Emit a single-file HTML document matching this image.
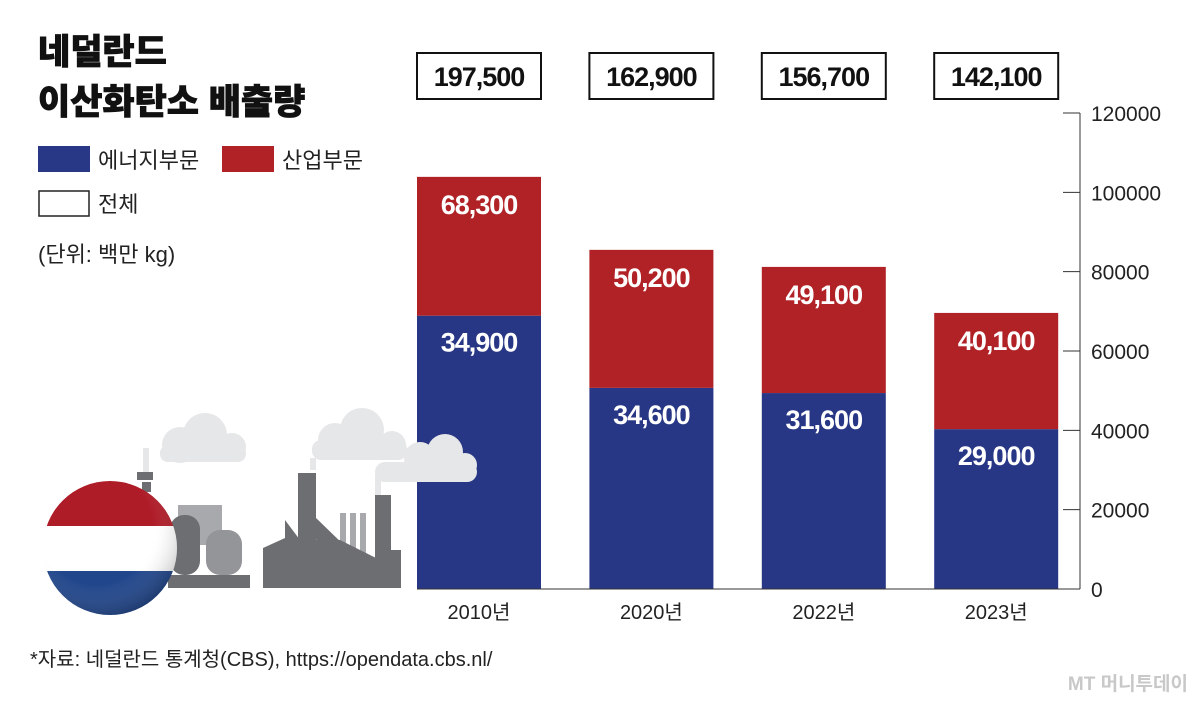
<!DOCTYPE html>
<html><head><meta charset="utf-8"><style>
body{margin:0;background:#fff;}
svg{display:block;font-family:"Liberation Sans","Noto Sans CJK KR",sans-serif;}
</style></head><body>
<svg id="c" width="1200" height="705" viewBox="0 0 1200 705">
<g font-weight="900" font-size="35" fill="#111" stroke="#111" stroke-width="0.8">
<text x="38" y="64">네덜란드</text><text x="38" y="114">이산화탄소 배출량</text></g>
<g font-size="22" fill="#222">
<rect x="38" y="146" width="52" height="26" fill="#283887"/>
<text x="98" y="168">에너지부문</text>
<rect x="222" y="146" width="52" height="26" fill="#b02226"/>
<text x="282" y="168">산업부문</text>
<rect x="39" y="191" width="50" height="25" fill="#fff" stroke="#222" stroke-width="1.5"/>
<text x="98" y="212">전체</text>
<text x="38" y="262">(단위: 백만 kg)</text></g>
<g id="bars"></g>
<g>
<g fill="#e6e7e8">
<circle cx="180" cy="445" r="18"/><circle cx="205" cy="435" r="22"/><circle cx="232" cy="447" r="14"/><rect x="160" y="445" width="86" height="17" rx="8"/>
<circle cx="335" cy="440" r="17"/><circle cx="362" cy="430" r="22"/><circle cx="392" cy="445" r="14"/><rect x="312" y="440" width="95" height="20" rx="9"/>
<circle cx="420" cy="458" r="16"/><circle cx="445" cy="452" r="18"/><circle cx="465" cy="465" r="12"/><rect x="375" y="462" width="102" height="20" rx="10"/>
<rect x="143" y="448" width="6" height="28"/><rect x="310" y="458" width="6" height="12"/><rect x="375" y="475" width="6" height="20"/>
</g>
<g fill="#6d6e71">
<rect x="137" y="472" width="16" height="8"/><rect x="142" y="482" width="9" height="10"/>
<rect x="178" y="505" width="44" height="40" fill="#a7a9ac"/>
<rect x="170" y="515" width="30" height="60" rx="14"/><rect x="206" y="530" width="36" height="45" rx="14" fill="#939598"/>
<rect x="168" y="575" width="82" height="13"/>
<rect x="298" y="473" width="18" height="115"/><rect x="375" y="495" width="16" height="93"/>
<rect x="340" y="513" width="6" height="50" fill="#a7a9ac"/><rect x="350" y="513" width="6" height="50" fill="#a7a9ac"/><rect x="360" y="513" width="6" height="50" fill="#a7a9ac"/>
<polygon points="263,548 285,538 285,520 300,540 340,540 400,570 400,588 263,588"/>
<polygon points="300,525 315,517 380,580 370,588"/>
<rect x="383" y="550" width="18" height="38"/>
</g>
<defs><clipPath id="fc"><circle cx="110" cy="548" r="67"/></clipPath>
<radialGradient id="sh" cx="0.4" cy="0.35" r="0.7"><stop offset="0.6" stop-color="#fff" stop-opacity="0"/><stop offset="1" stop-color="#000" stop-opacity="0.25"/></radialGradient></defs>
<g clip-path="url(#fc)">
<rect x="40" y="480" width="140" height="46" fill="#ae1c28"/>
<rect x="40" y="526" width="140" height="45" fill="#fff"/>
<rect x="40" y="571" width="140" height="46" fill="#21468b"/>
<circle cx="110" cy="548" r="67" fill="url(#sh)"/></g>
</g>
<g id="axis" font-size="21" fill="#222"></g>
<g id="xlab" font-size="20" fill="#222" text-anchor="middle"></g>
<text x="30" y="666" font-size="20" fill="#222">*자료: 네덜란드 통계청(CBS), https://opendata.cbs.nl/</text>
<text x="1188" y="690" font-size="19" fill="#c8c8c8" text-anchor="end" font-weight="bold">MT 머니투데이</text>
</svg>
<script>
const categories=["2010년","2020년","2022년","2023년"];
const energyVals=[68900,50700,49400,40300];
const industryVals=[35000,34800,31800,29300];
const energyLabels=["34,900","34,600","31,600","29,000"];
const industryLabels=["68,300","50,200","49,100","40,100"];
const totalLabels=["197,500","162,900","156,700","142,100"];
const yTicks=[0,20000,40000,60000,80000,100000,120000];
const NS="http://www.w3.org/2000/svg";
const y0=589,yTop=113,yMax=120000;
const y=v=>y0-(v/yMax)*(y0-yTop);
const bx=i=>417+i*172.4, bw=124;
function mk(t,a,p,txt){const e=document.createElementNS(NS,t);for(const k in a)e.setAttribute(k,a[k]);if(txt!=null)e.textContent=txt;p.appendChild(e);return e;}
const bars=document.getElementById('bars'),axis=document.getElementById('axis'),xl=document.getElementById('xlab');
categories.forEach((c,i)=>{
 const x=bx(i),e=energyVals[i],t=e+industryVals[i];
 const b1=mk('rect',{x:x,y:y(e),width:bw,height:y0-y(e),fill:'#283785'},bars);
 
 
 const b2=mk('rect',{x:x,y:y(t),width:bw,height:y(e)-y(t),fill:'#b02226'},bars);
 
 
 const l1=mk('text',{x:x+bw/2,y:y(e)+36,'font-size':27,'font-weight':'bold',fill:'#fff','text-anchor':'middle','letter-spacing':'-1'},bars,energyLabels[i]);
 
 
 const l2=mk('text',{x:x+bw/2,y:y(t)+37,'font-size':27,'font-weight':'bold',fill:'#fff','text-anchor':'middle','letter-spacing':'-1'},bars,industryLabels[i]);
 
 
 const bxr=mk('rect',{x:x,y:53,width:bw,height:46,fill:'#fff',stroke:'#111','stroke-width':2},bars);
 
 
 const tl=mk('text',{x:x+bw/2,y:86,'font-size':27,'font-weight':'bold',fill:'#111','text-anchor':'middle','letter-spacing':'-1'},bars,totalLabels[i]);
 
 
 const xt=mk('text',{x:x+bw/2,y:619},xl,c);
 
 
});
mk('line',{x1:1080,y1:yTop,x2:1080,y2:y0,stroke:'#333','stroke-width':1},axis);
mk('line',{x1:417,y1:y0,x2:1080,y2:y0,stroke:'#333','stroke-width':1},axis);
yTicks.forEach(v=>{
 mk('line',{x1:1063,y1:y(v),x2:1080,y2:y(v),stroke:'#333','stroke-width':1},axis);
 const t=mk('text',{x:1091,y:y(v)+8},axis,v);
 
 
});
</script>
</body></html>
